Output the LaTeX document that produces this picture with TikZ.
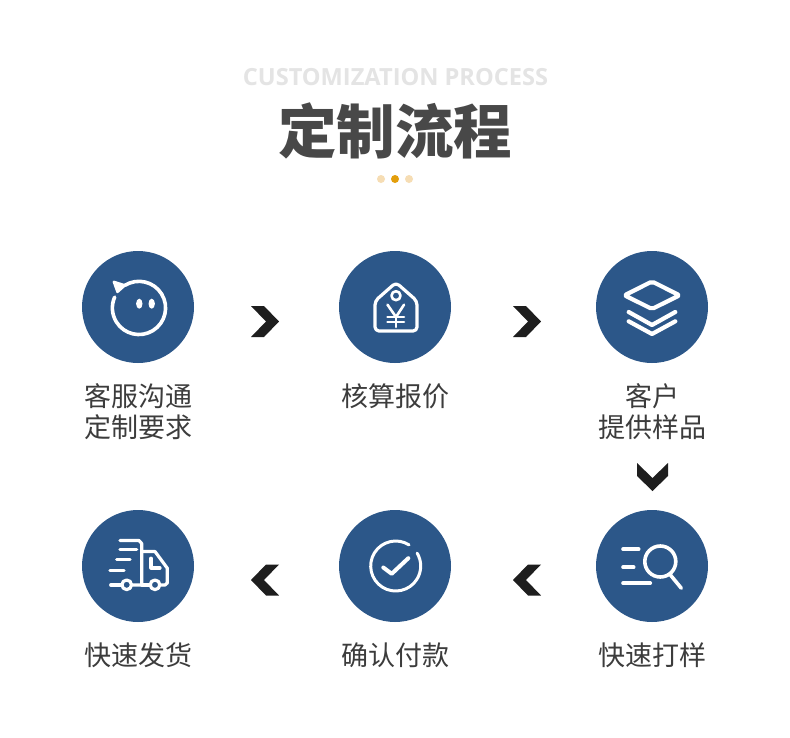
\documentclass[tikz,border=0pt]{standalone}
\usepackage{fontspec}
\newfontfamily\cjkfont{Noto Sans CJK SC}
\newfontfamily\enfont{Open Sans}
\usepackage{tikz}
\usetikzlibrary{positioning}
\definecolor{stepblue}{HTML}{2C5789}
\definecolor{chevcol}{HTML}{1E1E1E}
\definecolor{lblcol}{HTML}{3C3C3C}
\definecolor{titlecol}{HTML}{484848}
\definecolor{subcol}{HTML}{E4E4E4}
\definecolor{dotpale}{HTML}{F6DDB4}
\definecolor{dotmid}{HTML}{E39E0B}
\tikzset{
  chevron/.pic={\fill[chevcol] (-14,15.5) -- (-1,15.5) -- (14,0) -- (-1,-15.5) -- (-14,-15.5) -- (1,0) -- cycle;}
}

\begin{document}
\begin{tikzpicture}[
  x=1pt, y=1pt,
  node distance=20pt and 0pt,
  stepnode/.style={circle, fill=stepblue, minimum size=112pt, inner sep=0pt},
  lbl/.style={font=\fontsize{27}{31}\selectfont\cjkfont, text=lblcol, align=center, inner sep=0pt, xshift=0.6pt},
  icon/.style={draw=white, line width=3.6pt, line cap=round, line join=round},
  dot/.style={circle, minimum size=8pt, inner sep=0pt}
]
\useasboundingbox (0,0) rectangle (790,-737);
\fill[white] (0,0) rectangle (790,-737);

% heading
\node[font=\fontsize{23.6}{24}\selectfont\enfont\bfseries, text=subcol, inner sep=0pt] (sub) at (395.5,-77.5) {CUSTOMIZATION PROCESS};
\node[font=\fontsize{58.5}{59}\selectfont\cjkfont\bfseries, text=titlecol, inner sep=0pt] (title) at (395,-131) {定制流程};
\node[dot, fill=dotpale] (dotl) at (381,-179) {};
\node[dot, fill=dotmid] (dotm) at (395,-179) {};
\node[dot, fill=dotpale] (dotr) at (409,-179) {};

% steps
\node[stepnode] (chat) at (138,-307) {};
\node[stepnode] (quote) at (395,-307) {};
\node[stepnode] (sample) at (652,-307) {};
\node[stepnode] (ship) at (138,-566) {};
\node[stepnode] (pay) at (395,-566) {};
\node[stepnode] (proof) at (652,-566) {};

\node[lbl, below=of chat] (chatl) {客服沟通\\定制要求};
\node[lbl, below=of quote] (quotel) {核算报价};
\node[lbl, below=of sample] (samplel) {客户\\提供样品};
\node[lbl, below=of ship] (shipl) {快速发货};
\node[lbl, below=of pay] (payl) {确认付款};
\node[lbl, below=of proof] (proofl) {快速打样};

% arrows between the steps
\pic at (265,-321.5) {chevron};
\pic at (527,-321.5) {chevron};
\pic[rotate=-90] at (652.5,-477) {chevron};
\pic[rotate=180] at (527,-580) {chevron};
\pic[rotate=180] at (265,-580) {chevron};

% face
\begin{scope}[shift={(chat)}]
\draw[icon] (-13,21.7) arc (121.7:-204:26.6);
\draw[icon, fill=white, line width=2.4pt] (-24.2,25.2) -- (-13,21.7) -- (-20.5,15) -- cycle;
\fill[white] (1.3,3.3) ellipse (3.2pt and 5pt);
\fill[white] (13.7,3.3) ellipse (3.2pt and 5pt);
\end{scope}

% price tag
\begin{scope}[shift={(quote)}]
\draw[icon, line width=3.2pt, rounded corners=4pt] (1,24.5) -- (-20,6) -- (-20,-24) -- (22,-24) -- (22,6) -- cycle;
\draw[icon, line width=2.6pt] (1,11.3) circle (4.5pt);
\draw[icon, line width=2.6pt] (-7.5,2.3) -- (1,-10) -- (9,2.3);
\draw[icon, line width=2.6pt] (1,-10) -- (1,-20);
\draw[icon, line width=2.6pt] (-7.5,-10) -- (9,-10);
\draw[icon, line width=2.6pt] (-7.5,-15) -- (9,-15);
\end{scope}

% layers
\begin{scope}[shift={(sample)}]
\draw[icon, line width=4.2pt, rounded corners=2pt] (0,25.5) -- (-27.5,11.7) -- (0,-2) -- (27.5,11.7) -- cycle;
\draw[icon, line width=4.2pt] (-23.3,-5) -- (0,-18) -- (23.3,-5);
\draw[icon, line width=4.2pt] (-23.3,-14.3) -- (0,-27) -- (23.3,-14.3);
\end{scope}

% magnifier
\begin{scope}[shift={(proof)}]
\draw[icon] (-29,16.8) -- (-13.3,16.8);
\draw[icon] (-29,-1.2) -- (-18.3,-1.2);
\draw[icon] (-29,-17.2) -- (-1.7,-17.2);
\draw[icon] (8.3,4.5) circle (15.5pt);
\draw[icon] (18.3,-8.8) -- (29.3,-22.2);
\end{scope}

% check
\begin{scope}[shift={(pay)}]
\draw[icon, line width=3pt] (0.7,0) ++(57.7:25) arc (57.7:391:25);
\draw[icon, line width=4pt] (-11.7,-1.5) -- (-3.3,-7.8) -- (13.3,7.8);
\end{scope}

% truck
\begin{scope}[shift={(ship)}]
\draw[icon, line width=3.2pt] (-18,25.5) -- (1,25.5) -- (3.7,22.5) -- (3.7,-19) -- (-6.5,-19);
\draw[icon, line width=3.2pt] (3.7,-19) -- (12,-19);
\draw[icon, line width=3.2pt] (3.7,14.5) -- (17,14.5) -- (29.3,-2.2) -- (29.3,-17) -- (27,-19) -- (22.5,-19);
\draw[icon, line width=3.2pt] (13,7.8) -- (13,-2) -- (22,-2);
\draw[icon, line width=3.2pt] (-18,16.8) -- (-1.3,16.8);
\draw[icon, line width=3.2pt] (-21.3,6.2) -- (-8,6.2);
\draw[icon, line width=3.2pt] (-28,-4.5) -- (-14,-4.5);
\draw[icon, line width=3.2pt] (-27.3,-19) -- (-16,-19);
\draw[icon, line width=3.2pt] (-11.3,-18.8) circle (4.8pt);
\draw[icon, line width=3.2pt] (17,-18.8) circle (4.8pt);
\end{scope}
\end{tikzpicture}
\end{document}
